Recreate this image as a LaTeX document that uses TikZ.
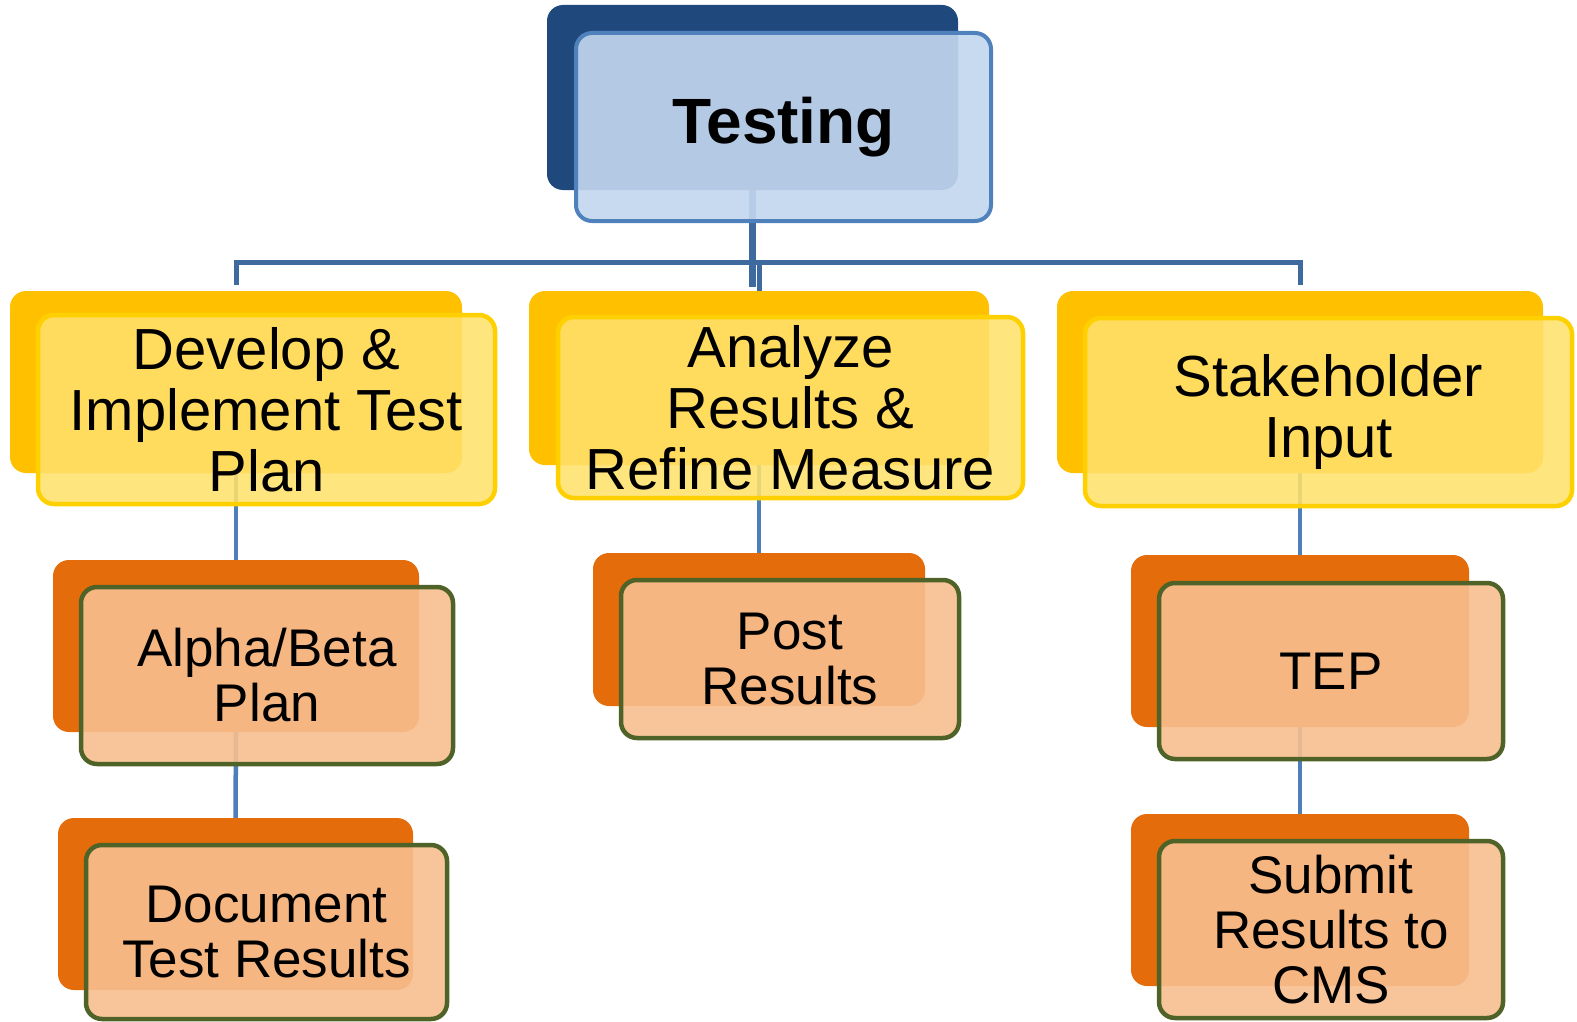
\documentclass[tikz,border=0pt]{standalone}
\usepackage{fontspec}
\setmainfont{Liberation Sans}
\usepackage{xcolor}
\definecolor{navy}{RGB}{31,73,125}
\definecolor{skyfill}{RGB}{195,214,238}
\definecolor{skyline}{RGB}{79,129,189}
\definecolor{goldback}{RGB}{255,192,0}
\definecolor{goldfill}{RGB}{255,225,107}
\definecolor{goldline}{RGB}{255,208,0}
\definecolor{rustback}{RGB}{228,108,10}
\definecolor{rustfill}{RGB}{247,191,143}
\definecolor{oliveline}{RGB}{79,98,40}
\definecolor{linkblue}{RGB}{62,106,160}
\definecolor{sublinkblue}{RGB}{79,127,187}

\begin{document}
\begin{tikzpicture}[
  x=1pt, y=-1pt,
  card/.style={rounded corners=16pt, inner sep=0pt, align=center},
  navyplate/.style={card, fill=navy},
  goldplate/.style={card, fill=goldback},
  rustplate/.style={card, fill=rustback},
  skybox/.style={card, fill=skyfill, fill opacity=0.91, text opacity=1,
                 draw=skyline, line width=4pt,
                 font=\fontsize{64}{70}\selectfont\bfseries},
  goldbox/.style={card, fill=goldfill, fill opacity=0.88, text opacity=1,
                  draw=goldline, line width=4.5pt,
                  font=\fontsize{58}{61}\selectfont},
  rustbox/.style={card, fill=rustfill, fill opacity=0.9, text opacity=1,
                  draw=oliveline, line width=4.5pt,
                  font=\fontsize{53}{55}\selectfont},
  link/.style={draw=linkblue, line width=5pt},
  sublink/.style={draw=sublinkblue, line width=4.5pt},
]
\useasboundingbox (0,0) rectangle (1577,1022);

% --- back plates ---
\node[navyplate, minimum width=411pt, minimum height=185pt] (testB) at (752.5,97.5) {};
\node[goldplate, minimum width=452pt, minimum height=182pt] (devB) at (236,382) {};
\node[goldplate, minimum width=460pt, minimum height=174pt] (anaB) at (759,378) {};
\node[goldplate, minimum width=486pt, minimum height=182pt] (stakeB) at (1300,382) {};
\node[rustplate, minimum width=366pt, minimum height=172pt] (alphaB) at (236,646) {};
\node[rustplate, minimum width=355pt, minimum height=172pt] (docB) at (235.5,904) {};
\node[rustplate, minimum width=332pt, minimum height=153pt] (postB) at (759,629.5) {};
\node[rustplate, minimum width=338pt, minimum height=172pt] (tepB) at (1300,641) {};
\node[rustplate, minimum width=338pt, minimum height=172pt] (cmsB) at (1300,900) {};

% --- connectors ---
\draw[link, line width=7pt] (testB.south) -- ++(0,72) coordinate (hub) -- ++(0,25);
\draw[link] (hub) -| ([yshift=6pt]devB.north);
\draw[link] (hub) -| (anaB.north);
\draw[link] (hub) -| ([yshift=6pt]stakeB.north);
\draw[sublink] (devB.south) -- (alphaB.north);
\draw[sublink] (alphaB.south) -- (docB.north);
\draw[sublink] (anaB.south) -- (postB.north);
\draw[sublink] (stakeB.south) -- (tepB.north);
\draw[sublink] (tepB.south) -- (cmsB.north);

% --- front cards ---
\node[skybox, minimum width=415pt, minimum height=188pt] (test) at (783.5,127)
  {\raisebox{-3pt}{Testing}};
\node[goldbox, minimum width=457pt, minimum height=189pt] (dev) at (266.5,409.5)
  {Develop \&\\Implement Test\\Plan};
\node[goldbox, minimum width=465pt, minimum height=181pt] (ana) at (790.5,407.5)
  {Analyze\\Results \&\\Refine Measure};
\node[goldbox, minimum width=487pt, minimum height=188pt] (stake) at (1328.5,412)
  {Stakeholder\\Input};
\node[rustbox, minimum width=372pt, minimum height=177pt] (alpha) at (267,675.5)
  {Alpha/Beta\\Plan};
\node[rustbox, minimum width=361pt, minimum height=174pt] (doc) at (266.5,932)
  {Document\\Test Results};
\node[rustbox, minimum width=338pt, minimum height=158pt] (post) at (790,659)
  {Post\\Results};
\node[rustbox, minimum width=344pt, minimum height=176pt] (tep) at (1331,671) {TEP};
\node[rustbox, minimum width=344pt, minimum height=177pt] (cms) at (1331,929.5)
  {Submit\\Results to\\CMS};
\end{tikzpicture}
\end{document}
